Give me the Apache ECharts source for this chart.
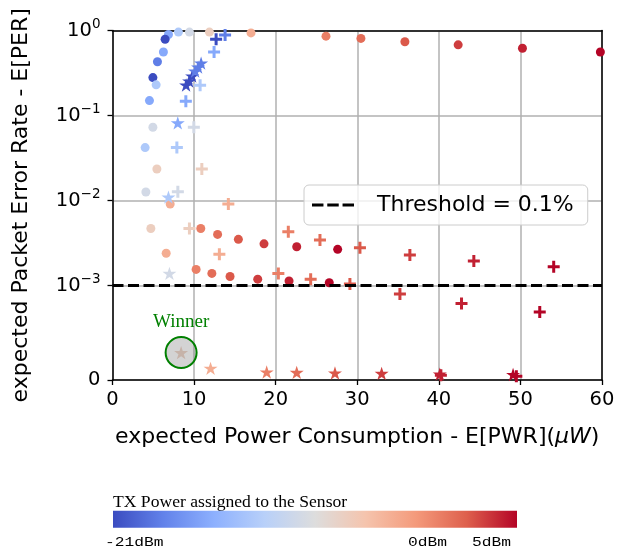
<!DOCTYPE html>
<html><head><meta charset="utf-8">
<script src="https://cdn.jsdelivr.net/npm/echarts/dist/echarts.min.js"></script>
<style>html,body{margin:0;padding:0;background:#fff}#c{width:618px;height:553px}</style>
</head><body><div id="c"></div>
<script>
// ---- data (x = E[PWR] in uW, per = E[PER], tx = TX power in dBm) ----
const circleX   = [8.08, 9.43, 11.88, 16.98, 26.17, 30.45, 35.84, 42.37, 50.25, 59.8,
                   6.86, 6.45, 6.24, 5.51, 4.95, 5.35, 4.53, 4.95, 4.0, 5.44, 4.09, 7.07, 4.70,
                   10.82, 12.88, 15.43, 18.57, 22.58, 27.6, 6.58,
                   10.25, 12.18, 14.41, 17.8, 21.64, 26.57];
const circlePER = [0.96, 0.96, 0.96, 0.94, 0.86, 0.81, 0.74, 0.68, 0.62, 0.56,
                   0.90, 0.79, 0.56, 0.43, 0.28, 0.23, 0.15, 0.073, 0.042, 0.0235, 0.0126, 0.0091, 0.0047,
                   0.0047, 0.0040, 0.0035, 0.0031, 0.00286, 0.00267, 0.0024,
                   0.00155, 0.00139, 0.00128, 0.00119, 0.00113, 0.00108];
const circleTX  = [-12, -9, -6, -3, 0, 1, 2, 3, 4, 5,
                   -15, -21, -15, -18, -21, -12, -15, -9, -12, -6, -9, -3, -6,
                   0, 1, 2, 3, 4, 5, -3,
                   0, 1, 2, 3, 4, 5];

const plusX   = [13.8, 12.7, 12.45, 10.74, 8.99, 9.97, 7.89, 10.95, 8.01, 14.2, 9.43, 13.1,
                 21.55, 25.43, 30.33, 36.45, 44.29, 54.08,
                 20.33, 24.29, 29.1, 35.23, 42.78, 52.37, 40.25, 49.5];
const plusPER = [0.89, 0.79, 0.56, 0.227, 0.147, 0.073, 0.042, 0.0235, 0.0127, 0.0091, 0.0047, 0.00233,
                 0.0043, 0.00344, 0.00279, 0.00229, 0.00195, 0.00167,
                 0.00139, 0.00119, 0.00104, 0.00091, 0.00081, 0.00072, 0.00005, 0.00004];
const plusTX  = [-18, -21, -15, -12, -15, -9, -12, -6, -9, -3, -6, -3,
                 0, 1, 2, 3, 4, 5,
                 0, 1, 2, 3, 4, 5, 4, 5];

const starX   = [9.02, 9.39, 9.76, 10.13, 10.49, 10.86, 8.0, 6.86, 6.98, 8.41, 12.02,
                 18.9, 22.58, 27.27, 32.99, 40.12, 49.1];
const starPER = [0.229, 0.255, 0.292, 0.334, 0.372, 0.415, 0.082, 0.011, 0.00139, 0.00029, 0.000124,
                 0.000085, 0.00008, 0.000074, 0.00007, 0.000063, 0.000058];
const starTX  = [-21, -21, -21, -18, -18, -18, -15, -12, -9, -6, -3,
                 0, 1, 2, 3, 4, 5];

const winnerX = [8.41];
const winnerPER = [0.00029];

const thresholdX = [0, 60];
const thresholdPER = 0.001;

const yTickPER = [0, 1e-3, 1e-2, 1e-1, 1];
const yTickLabels = ['{b|0}', '{b|10}{s|−3}', '{b|10}{s|−2}', '{b|10}{s|−1}', '{b|10}{s|0}'];

const txMin = -21, txMax = 5;
const colorbarLabels = ['-21dBm', '0dBm', '5dBm'];
const coolwarm = ['#3b4cc0', '#6282ea', '#8db0fe', '#b8d0f9', '#dddddd', '#f5c4ad', '#f49a7b', '#de604d', '#b40426'];

// ---- symlog transform (linthresh 1e-3, linscale 1, base 10) ----
const LIN = 1e-3;
const LINSCALE = 1 / (1 - 1 / 10);
function tf(v) { return v <= LIN ? v / LIN * LINSCALE : LINSCALE + Math.log10(v / LIN); }

const yCustom = yTickPER.map(tf);
function yLabel(v) {
  let best = 0, bd = Infinity;
  yCustom.forEach((c, i) => { const d = Math.abs(c - v); if (d < bd) { bd = d; best = i; } });
  return yTickLabels[best];
}

const mk = (xs, ps, ts) => xs.map((x, i) => [x, tf(ps[i]), ts[i]]);

const STAR = 'path://M10,0L12.245,6.91L19.511,6.91L13.633,11.18L15.878,18.09L10,13.82L4.122,18.09L6.367,11.18L0.489,6.91L7.755,6.91Z';
const PLUS = 'path://M4.5,0H7.5V4.5H12V7.5H7.5V12H4.5V7.5H0V4.5H4.5Z';
const DASHICON = 'path://M0,0H12V3H0Z M16,0H28V3H16Z M32,0H44V3H32Z';

const FONT = 'DejaVu Sans';
const chart = echarts.init(document.getElementById('c'), null, { renderer: 'canvas' });

const stops = coolwarm.map((c, i) => ({ offset: i / (coolwarm.length - 1), color: c }));
const barL = 113, barR = 517;

chart.setOption({
  animation: false,
  backgroundColor: '#fff',
  textStyle: { fontFamily: FONT },
  grid: { left: 112.5, right: 16, top: 30.6, bottom: 173, outerBoundsMode: 'none', containLabel: false },
  xAxis: [{
    type: 'value', min: 0, max: 60, interval: 10,
    name: 'expected Power Consumption - E[PWR]({i|μW})',
    nameLocation: 'middle', nameGap: 46,
    nameTextStyle: { fontSize: 22, color: '#000', fontFamily: FONT,
      rich: { i: { fontStyle: 'italic', fontSize: 22, color: '#000', fontFamily: FONT } } },
    axisLine: { onZero: false, lineStyle: { color: '#000', width: 1.5 } },
    axisTick: { show: true, inside: false, length: 5, lineStyle: { color: '#000', width: 1.3 } },
    axisLabel: { fontSize: 19.5, color: '#000', margin: 10, fontFamily: FONT },
    splitLine: { show: true, lineStyle: { color: '#b0b0b0', width: 1.5 } }
  }, {
    type: 'value', min: 0, max: 60, position: 'top',
    axisLine: { show: true, onZero: false, lineStyle: { color: '#000', width: 1.5 } },
    axisTick: { show: false }, axisLabel: { show: false }, splitLine: { show: false }
  }],
  yAxis: [{
    type: 'value', min: 0, max: tf(1),
    name: 'expected Packet Error Rate - E[PER]',
    nameLocation: 'middle', nameGap: 80,
    nameTextStyle: { fontSize: 22, color: '#000', fontFamily: FONT },
    axisLine: { onZero: false, lineStyle: { color: '#000', width: 1.5 } },
    axisTick: { show: true, length: 5, customValues: yCustom, lineStyle: { color: '#000', width: 1.3 } },
    axisLabel: {
      customValues: yCustom, margin: 12, color: '#000', formatter: yLabel,
      rich: {
        b: { fontSize: 19.5, lineHeight: 26, color: '#000', fontFamily: FONT },
        s: { fontSize: 13.5, lineHeight: 14, verticalAlign: 'top', color: '#000', fontFamily: FONT }
      }
    },
    splitLine: { show: true, lineStyle: { color: '#b0b0b0', width: 1.5 } }
  }, {
    type: 'value', min: 0, max: tf(1), position: 'right',
    axisLine: { show: true, onZero: false, lineStyle: { color: '#000', width: 1.5 } },
    axisTick: { show: false }, axisLabel: { show: false }, splitLine: { show: false }
  }],
  visualMap: {
    type: 'continuous', show: false, min: txMin, max: txMax, dimension: 2,
    seriesIndex: [0, 1, 2], inRange: { color: coolwarm }
  },
  legend: {
    left: 304, top: 185, padding: [9, 14, 9, 8],
    itemWidth: 42, itemHeight: 3,
    backgroundColor: 'rgba(255,255,255,0.8)', borderColor: '#cccccc', borderWidth: 1, borderRadius: 5,
    textStyle: { fontSize: 22, color: '#000', fontFamily: FONT, padding: [0, 0, 0, 18] },
    data: [{ name: 'Threshold = 0.1%', icon: DASHICON, itemStyle: { color: '#000' } }], selectedMode: false
  },
  series: [
    { type: 'scatter', name: 'circles', symbol: 'circle', symbolSize: 9, itemStyle: { opacity: 1 },
      data: mk(circleX, circlePER, circleTX), z: 3 },
    { type: 'scatter', name: 'plus', symbol: PLUS, symbolSize: 12, itemStyle: { opacity: 1 },
      data: mk(plusX, plusPER, plusTX), z: 3 },
    { type: 'scatter', name: 'stars', symbol: STAR, symbolSize: 14, symbolKeepAspect: true, itemStyle: { opacity: 1 },
      data: mk(starX, starPER, starTX), z: 3 },
    { type: 'scatter', name: 'winner', symbol: 'circle', symbolSize: 31,
      data: winnerX.map((x, i) => [x, tf(winnerPER[i])]),
      itemStyle: { color: 'rgba(128,128,128,0.35)', borderColor: '#008000', borderWidth: 2, opacity: 1 },
      label: { show: true, position: 'top', distance: 5, formatter: 'Winner', color: '#008000',
               fontFamily: 'Liberation Serif', fontSize: 19 }, z: 4 },
    { type: 'line', name: 'Threshold = 0.1%', symbol: 'none',
      data: thresholdX.map(x => [x, tf(thresholdPER)]),
      lineStyle: { color: '#000', width: 3, type: [11, 4.5] }, itemStyle: { color: '#000' }, z: 5 }
  ],
  graphic: [
    { type: 'text', x: 113, y: 503, scaleX: 1.1,
      style: { text: 'TX Power assigned to the Sensor', x: 0, y: 0, verticalAlign: 'middle',
               font: '16px "Liberation Serif"', fill: '#000' } },
    { type: 'rect', shape: { x: barL, y: 510.7, width: barR - barL, height: 17 },
      style: { fill: new echarts.graphic.LinearGradient(0, 0, 1, 0, stops) } },
    { type: 'text', x: 105, y: 543, scaleX: 1.25,
      style: { text: colorbarLabels[0], x: 0, y: 0, verticalAlign: 'middle', font: '13px "Liberation Mono"', fill: '#000' } },
    { type: 'text', x: 408, y: 543, scaleX: 1.25,
      style: { text: colorbarLabels[1], x: 0, y: 0, verticalAlign: 'middle', font: '13px "Liberation Mono"', fill: '#000' } },
    { type: 'text', x: 472, y: 543, scaleX: 1.25,
      style: { text: colorbarLabels[2], x: 0, y: 0, verticalAlign: 'middle', font: '13px "Liberation Mono"', fill: '#000' } }
  ]
});
</script></body></html>
